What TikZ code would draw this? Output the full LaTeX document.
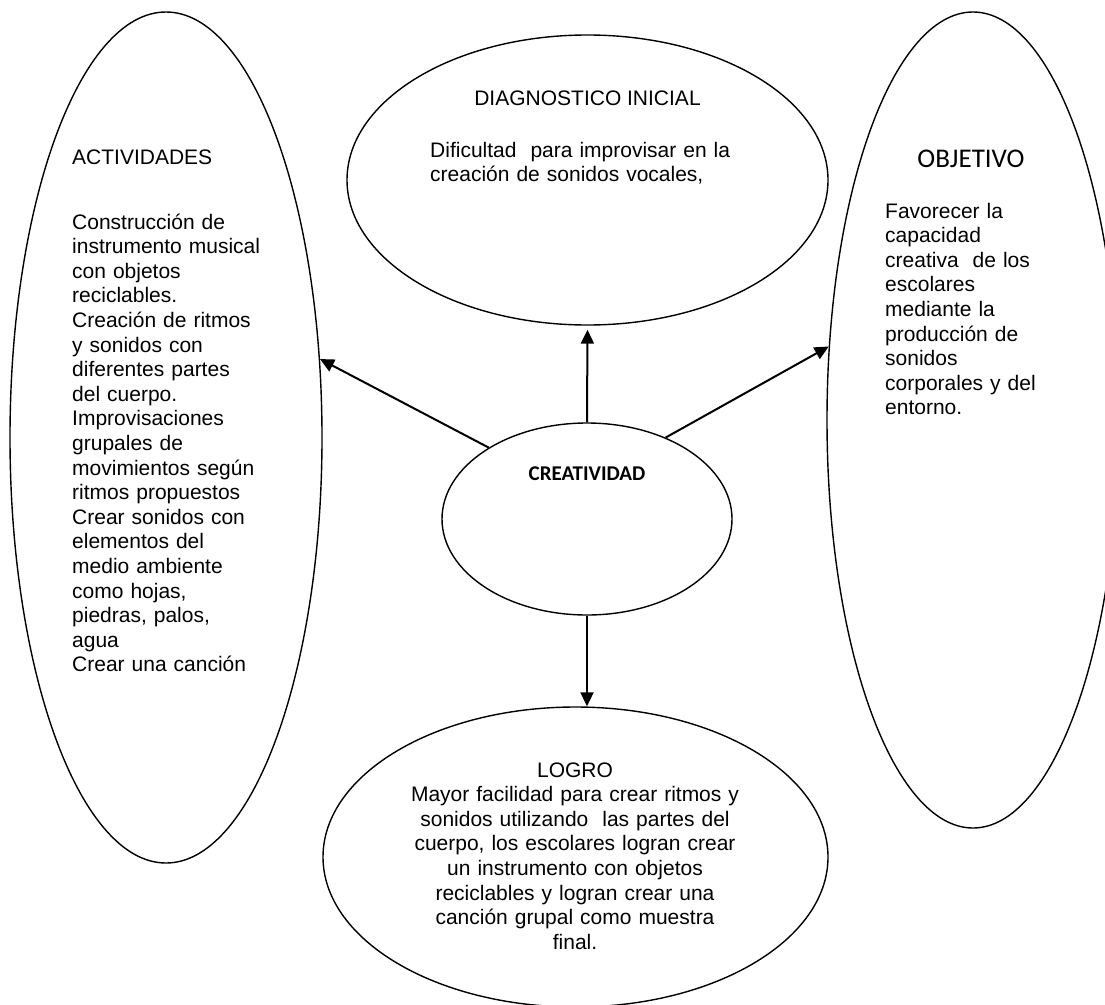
\documentclass[tikz,border=0pt]{standalone}
\usepackage{fontspec}
\setmainfont{Liberation Sans}
\newfontfamily\calibrifont{Carlito}
\usetikzlibrary{shapes.geometric,arrows.meta}
\begin{document}
\begin{tikzpicture}[x=1pt,y=-1pt,
  oval/.style={draw, ellipse, line width=1.4pt, inner sep=0pt},
  conn/.style={line width=2pt, -{Triangle[length=14pt,width=13pt]}},
  txt/.style={inner sep=0pt, font=\fontsize{21}{24.6}\selectfont},
  blockl/.style={txt, anchor=base west, align=left},
  blockc/.style={txt, anchor=base, align=center}]
\useasboundingbox (0,0) rectangle (1105,1004);
% ellipses
\node[oval, minimum width=312pt, minimum height=851pt] (act) at (166,437.5) {};
\node[oval, minimum width=481pt, minimum height=290pt] (dia) at (587.5,180) {};
\node[oval, minimum width=292pt, minimum height=816pt] (obj) at (973,420) {};
\node[oval, minimum width=290pt, minimum height=192pt] (crea) at (587,519) {};
\node[oval, minimum width=505pt, minimum height=300pt] (log) at (575.5,857) {};
% texts
\node[blockl] (actT) at (72,164) {ACTIVIDADES};
\node[blockl, text width=260pt] (actB) at (72,229) {Construcción de\\instrumento musical\\con objetos\\reciclables.\\Creación de ritmos\\y sonidos con\\diferentes partes\\del cuerpo.\\Improvisaciones\\grupales de\\movimientos según\\ritmos propuestos\\Crear sonidos con\\elementos del\\medio ambiente\\como hojas,\\piedras, palos,\\agua\\Crear una canción};
\node[blockc] (diaT) at (587.5,105) {DIAGNOSTICO INICIAL};
\node[blockl, text width=360pt] (diaB) at (430,157) {Dificultad~ para improvisar en la\\creación de sonidos vocales,};
\node[inner sep=0pt, anchor=base, font=\calibrifont\fontsize{27}{30}\selectfont] (objT) at (971,167) {OBJETIVO};
\node[blockl, text width=210pt] (objB) at (885,218) {Favorecer la\\capacidad\\creativa~ de los\\escolares\\mediante la\\producción de\\sonidos\\corporales y del\\entorno.};
\node[inner sep=0pt, anchor=base, font=\calibrifont\bfseries\fontsize{21}{24}\selectfont] (creaT) at (587,480) {CREATIVIDAD};
\node[blockc, text width=420pt] (logB) at (575,777) {LOGRO\\Mayor facilidad para crear ritmos y\\sonidos utilizando~ las partes del\\cuerpo, los escolares logran crear\\un instrumento con objetos\\reciclables y logran crear una\\canción grupal como muestra\\final.};
% connectors
\draw[conn] (crea.144) -- (act.27);
\draw[conn, shorten >=4pt] (crea.north) -- (dia.south);
\draw[conn] (crea.46) -- (obj.153);
\draw[conn] (crea.south) -- (crea.south |- log.north);
\end{tikzpicture}
\end{document}
